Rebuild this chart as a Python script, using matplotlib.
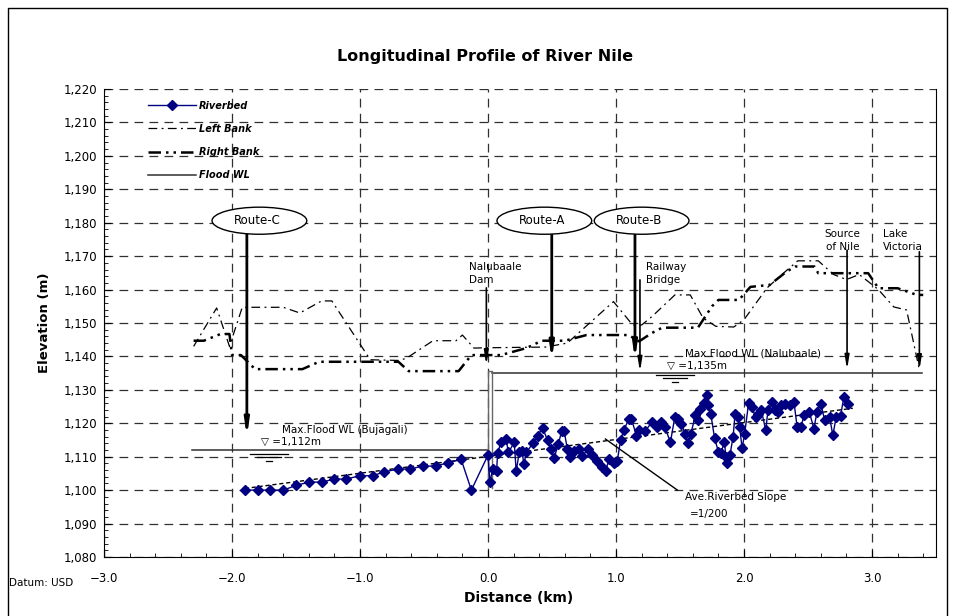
import matplotlib
matplotlib.use('Agg')
import matplotlib.pyplot as plt
from matplotlib.patches import Ellipse
from matplotlib.ticker import MultipleLocator, FuncFormatter
from matplotlib.lines import Line2D

# riverbed (km, m)
bed_x = [-1.90, -1.80, -1.70, -1.60, -1.50, -1.40, -1.30, -1.20, -1.11, -1.00,
         -0.90, -0.81, -0.70, -0.61, -0.51, -0.41, -0.31, -0.21, -0.13, 0.00,
         0.015, 0.036, 0.067, 0.075, 0.10, 0.14, 0.16, 0.205, 0.22, 0.244,
         0.265, 0.28, 0.30, 0.35, 0.387, 0.426, 0.465, 0.49, 0.516, 0.55,
         0.576, 0.594, 0.62, 0.64, 0.672, 0.71, 0.737, 0.784, 0.815, 0.854,
         0.888, 0.92, 0.945, 0.984, 1.01, 1.036, 1.062, 1.10, 1.12, 1.16,
         1.18, 1.23, 1.28, 1.32, 1.35, 1.38, 1.425, 1.46, 1.486, 1.51,
         1.54, 1.56, 1.585, 1.62, 1.64, 1.66, 1.69, 1.707, 1.72, 1.74,
         1.77, 1.80, 1.82, 1.845, 1.86, 1.87, 1.89, 1.915, 1.93, 1.95,
         1.966, 1.985, 2.005, 2.036, 2.06, 2.09, 2.11, 2.135, 2.17, 2.187,
         2.22, 2.24, 2.265, 2.29, 2.317, 2.356, 2.39, 2.415, 2.447, 2.467,
         2.51, 2.546, 2.57, 2.60, 2.63, 2.668, 2.694, 2.72, 2.754, 2.78, 2.81]
bed_z = [1100, 1100, 1100, 1100, 1101.4, 1102.4, 1102.4, 1103.3, 1103.3, 1104.3,
         1104.3, 1105.5, 1106.3, 1106.3, 1107.2, 1107.2, 1108.2, 1109.2, 1100, 1110.5,
         1102.3, 1106.3, 1105.8, 1111, 1114.3, 1115.3, 1111.3, 1114.3, 1105.6, 1111.3,
         1111.8, 1107.8, 1111.3, 1114, 1116.3, 1118.6, 1115, 1112.3, 1109.6, 1113.8,
         1117.8, 1117.8, 1112.3, 1110, 1111.8, 1112.3, 1110.3, 1112.3, 1110.6, 1108.8,
         1107, 1105.8, 1109.3, 1108, 1108.8, 1115, 1118, 1121.3, 1121.3, 1116.3,
         1118, 1117.8, 1120.3, 1119, 1120.3, 1119, 1114.3, 1122, 1121.4, 1119.9,
         1116.9, 1114, 1116.9, 1122.4, 1120.9, 1124.4, 1126, 1128.4, 1125.4, 1122.9,
         1115.5, 1111.5, 1111, 1114.5, 1110, 1108, 1110.5, 1116, 1122.9, 1121.9,
         1118.9, 1112.5, 1116.9, 1126.1, 1124.9, 1121.9, 1122.9, 1123.9, 1117.9, 1123.9,
         1126.4, 1123.9, 1123.4, 1125.4, 1125.9, 1125.4, 1126.4, 1118.9, 1118.9, 1122.4,
         1123.4, 1118.4, 1123.4, 1125.9, 1120.9, 1121.9, 1116.4, 1121.9, 1122.1, 1127.9, 1125.9]

left_x = [-2.30, -2.12, -2.02, -1.92, -1.60, -1.47, -1.30, -1.22, -0.92, -0.70,
          -0.64, -0.43, -0.25, -0.20, -0.11, 0.00, 0.45, 0.62, 0.98, 1.13,
          1.20, 1.28, 1.46, 1.58, 1.68, 1.78, 1.92, 2.00, 2.18, 2.32,
          2.42, 2.58, 2.70, 2.80, 2.90, 3.05, 3.17, 3.27, 3.37]
left_z = [1143, 1154.5, 1143, 1154.7, 1154.7, 1153, 1156.6, 1156.6, 1139, 1138.8,
          1139.4, 1144.7, 1144.7, 1146.4, 1142.5, 1142.6, 1142.8, 1144, 1156.4, 1149.4,
          1149.4, 1151.9, 1158.4, 1158.4, 1151.5, 1149, 1148.8, 1151, 1160.5, 1165.3,
          1168.6, 1168.6, 1164.5, 1163, 1164.5, 1160, 1154.8, 1153.9, 1136]

right_x = [-2.30, -2.22, -2.09, -2.02, -2.00, -1.93, -1.82, -1.45, -1.32, -0.70,
           -0.62, -0.23, -0.13, 0.00, 0.10, 0.30, 0.42, 0.60, 0.77, 1.10,
           1.18, 1.28, 1.36, 1.64, 1.75, 1.80, 1.96, 2.05, 2.20, 2.33,
           2.40, 2.55, 2.58, 2.97, 3.05, 3.20, 3.35, 3.40]
right_z = [1144.7, 1144.7, 1146.7, 1146.7, 1140.4, 1140.4, 1136.2, 1136.2, 1138.4, 1138.4,
           1135.6, 1135.6, 1140.4, 1140.4, 1140.4, 1142.5, 1144.7, 1144.7, 1146.4, 1146.4,
           1144.5, 1147, 1148.6, 1148.6, 1155, 1156.9, 1156.9, 1160.8, 1161.4, 1165.3,
           1166.9, 1166.9, 1164.9, 1164.9, 1160.4, 1160.4, 1158.4, 1158.4]

# flood water levels
wl_x = [-2.31, 0.00, None, 0.03, 3.39]
wl_z = [1112, 1112, None, 1135, 1135]
dam_x = [0.00, 0.00, 0.03, 0.03]
dam_z = [1100.6, 1135.6, 1135.6, 1100.6]

# average riverbed slope 1/200
slope_x = [-1.90, 2.85]
slope_z = [1100.5, 1124.5]

# route ellipses: label, centre x, arrow x, arrow end
routes = ['Route-C', 'Route-A', 'Route-B']
route_cx = [-1.786, 0.44, 1.20]
route_ax = [-1.884, 0.498, 1.148]
route_end = [1115.9, 1138.9, 1139.0]

# place arrows: label, text x, text y, arrow x, top, bottom
places = ['Nalubaale\nDam', 'Railway\nBridge', 'Source\nof Nile', 'Lake\nVictoria']
place_tx = [-0.15, 1.236, 2.77, 3.083]
place_ha = ['left', 'left', 'center', 'left']
place_ty = [1164.8, 1164.9, 1174.6, 1174.6]
place_ax = [-0.013, 1.187, 2.805, 3.37]
place_top = [1160.5, 1162.9, 1171.8, 1171.3]
place_bot = [1137.4, 1135.4, 1136.0, 1135.9]

fig = plt.figure(figsize=(9.56, 6.16), dpi=100)
ax = fig.add_axes([0.1088, 0.0958, 0.8703, 0.7597])

# frame round the whole chart
fig.add_artist(Line2D([0.008, 0.008, 0.991, 0.991], [0.0, 0.987, 0.987, 0.0],
                      transform=fig.transFigure, color='black', lw=1))

ax.plot(bed_x, bed_z, color='#000080', lw=1, marker='D', markersize=5.5,
        label='Riverbed', zorder=5)
ax.plot(left_x, left_z, color='black', lw=0.9, linestyle=(0, (7, 3.5, 1.5, 3.5)),
        label='Left Bank')
ax.plot(right_x, right_z, color='black', lw=1.8, linestyle=(0, (5, 2, 1, 2, 1, 2)),
        label='Right Bank')
ax.plot(wl_x, wl_z, color='#303030', lw=1.1, label='Flood WL')
ax.plot(dam_x, dam_z, color='#666666', lw=1)
ax.plot(slope_x, slope_z, color='black', lw=1, linestyle=(0, (3, 2)))
ax.plot([0.917, 1.48], [1115.3, 1100], color='black', lw=1)

for name, cx, axx, end in zip(routes, route_cx, route_ax, route_end):
    ax.add_patch(Ellipse((cx, 1180.6), 0.74, 8.1, facecolor='white',
                         edgecolor='black', lw=1, zorder=6))
    ax.text(cx - 0.02, 1180.6, name, ha='center', va='center', fontsize=8.5, zorder=7)
    ax.annotate('', xy=(axx, end), xytext=(axx, 1176.6),
                arrowprops=dict(arrowstyle='-|>,head_length=0.9,head_width=0.13',
                                lw=2, color='black', shrinkA=0, shrinkB=0))

for name, tx, ha, ty, axx, top, bot in zip(places, place_tx, place_ha, place_ty,
                                           place_ax, place_top, place_bot):
    ax.text(tx, ty, name, ha=ha, va='center', fontsize=7.5, linespacing=1.35,
            multialignment='center' if ha == 'center' else 'left')
    ax.annotate('', xy=(axx, bot), xytext=(axx, top),
                arrowprops=dict(arrowstyle='-|>,head_length=0.8,head_width=0.13',
                                lw=1.2, color='black', shrinkA=0, shrinkB=0))

# water level labels and symbols
ax.text(-1.608, 1118, 'Max.Flood WL (Bujagali)', fontsize=7.5, va='center')
ax.text(-1.77, 1114.3, '\u25bd =1,112m', fontsize=7.5, va='center')
ax.text(1.54, 1141, 'Max.Flood WL (Nalubaale)', fontsize=7.5, va='center')
ax.text(1.40, 1137.3, '\u25bd =1,135m', fontsize=7.5, va='center')
for cx, base in [(-1.71, 1110.8), (1.46, 1134.4)]:
    for w, dz in [(0.30, 0), (0.19, 0.9), (0.05, 2.1)]:
        ax.plot([cx - w / 2, cx + w / 2], [base - dz, base - dz], color='black', lw=0.9)
ax.text(1.54, 1098, 'Ave.Riverbed Slope', fontsize=7.5, va='center')
ax.text(1.58, 1092.9, '=1/200', fontsize=7.5, va='center')

ax.set_xlim(-3, 3.5)
ax.set_ylim(1080, 1220)
ax.xaxis.set_major_locator(MultipleLocator(1.0))
ax.xaxis.set_minor_locator(MultipleLocator(0.2))
ax.yaxis.set_major_locator(MultipleLocator(10))
ax.yaxis.set_minor_locator(MultipleLocator(2))
ax.xaxis.set_major_formatter(FuncFormatter(lambda v, p: f'{v:.1f}'.replace('-', '\u2212')))
ax.yaxis.set_major_formatter(FuncFormatter(lambda v, p: f'{v:,.0f}'))
ax.tick_params(which='both', direction='in', top=False, right=False, labelsize=8.5)
ax.tick_params(which='major', length=5)
ax.tick_params(which='minor', length=3)
ax.tick_params(axis='x', pad=11)
ax.tick_params(axis='y', pad=5)
ax.grid(True, which='major', color='#303030', lw=0.9, linestyle=(0, (7, 5)))
ax.spines['top'].set_visible(False)
ax.set_axisbelow(True)

ax.legend(loc='upper left', bbox_to_anchor=(0.053, 0.975), frameon=False,
          borderpad=0, borderaxespad=0, handlelength=4.9, handletextpad=0.3,
          labelspacing=1.35, prop={'size': 7, 'weight': 'bold', 'style': 'italic'})

fig.text(0.507, 0.9075, 'Longitudinal Profile of River Nile', ha='center', va='center',
         fontsize=11.5, fontweight='bold')
fig.text(0.542, 0.0292, 'Distance (km)', ha='center', va='center', fontsize=10,
         fontweight='bold')
fig.text(0.047, 0.4756, 'Elevation (m)', ha='center', va='center', rotation=90,
         fontsize=9.5, fontweight='bold')
fig.text(0.009, 0.054, 'Datum: USD', ha='left', va='center', fontsize=7.5)

fig.savefig('out.png', dpi=100)
